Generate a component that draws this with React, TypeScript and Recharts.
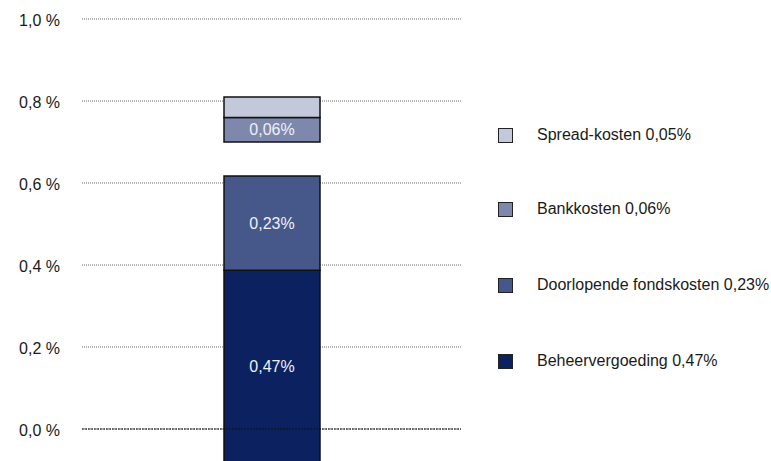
import React from 'react';
import { BarChart, Bar, XAxis, YAxis, CartesianGrid, ReferenceLine, LabelList } from 'recharts';

const categories = ['Kosten'];
const baseOffset = [-0.083];
const beheervergoeding = [0.47];
const doorlopende = [0.23];
const gapValues = [0.083];
const bankkosten = [0.06];
const spreadkosten = [0.05];

const yTicks = [0, 0.2, 0.4, 0.6, 0.8, 1.0];
const yTickLabels = ['0,0 %', '0,2 %', '0,4 %', '0,6 %', '0,8 %', '1,0 %'];

const barLabels = { beheer: '0,47%', doorl: '0,23%', bank: '0,06%' };

const legendNames = ['Spread-kosten 0,05%', 'Bankkosten 0,06%', 'Doorlopende fondskosten 0,23%', 'Beheervergoeding 0,47%'];
const legendColors = ['#c3c8da', '#7e88ad', '#46578a', '#0c2260'];
const legendCenters = [135, 209, 285, 361];

const data = categories.map((name, i) => ({
  name,
  offset: baseOffset[i],
  beheer: beheervergoeding[i],
  doorl: doorlopende[i],
  gap: gapValues[i],
  bank: bankkosten[i],
  spread: spreadkosten[i],
}));

const FONT = '"Liberation Sans", Arial, sans-serif';

const YTick = (props: any) => {
  const { y, payload } = props;
  const idx = yTicks.findIndex((t) => Math.abs(t - payload.value) < 1e-9);
  return (
    <text x={60} y={y + 1} textAnchor="end" dominantBaseline="central" fontSize={16} fontFamily={FONT} fill="#1a1a1a">
      {idx >= 0 ? yTickLabels[idx] : ''}
    </text>
  );
};

export default function App() {
  return (
    <div style={{ position: 'absolute', left: 0, top: 0, width: 771, height: 461, overflow: 'hidden', background: '#fff' }}>
      <BarChart width={771} height={480} data={data} margin={{ top: 19, right: 310, left: 0, bottom: 10 }}>
        <CartesianGrid vertical={false} stroke="#666" strokeDasharray="1 1" />
        <ReferenceLine y={0} stroke="#111" strokeDasharray="2 1" />
        <XAxis dataKey="name" hide />
        <YAxis
          width={82}
          domain={[-0.1, 1.0]}
          ticks={yTicks}
          axisLine={false}
          tickLine={false}
          tick={<YTick />}
          allowDataOverflow
        />
        <Bar dataKey="offset" stackId="a" fill="transparent" stroke="none" barSize={96} isAnimationActive={false} />
        <Bar dataKey="beheer" stackId="a" fill={legendColors[3]} stroke="#111" strokeWidth={1.5} barSize={96} isAnimationActive={false}>
          <LabelList position="center" formatter={() => barLabels.beheer} fill="#eef0f6" fontSize={16} fontFamily={FONT} />
        </Bar>
        <Bar dataKey="doorl" stackId="a" fill={legendColors[2]} stroke="#111" strokeWidth={1.5} barSize={96} isAnimationActive={false}>
          <LabelList position="center" formatter={() => barLabels.doorl} fill="#eef0f6" fontSize={16} fontFamily={FONT} />
        </Bar>
        <Bar dataKey="gap" stackId="a" fill="transparent" stroke="none" barSize={96} isAnimationActive={false} />
        <Bar dataKey="bank" stackId="a" fill={legendColors[1]} stroke="#111" strokeWidth={1.5} barSize={96} isAnimationActive={false}>
          <LabelList position="center" formatter={() => barLabels.bank} fill="#eef0f6" fontSize={16} fontFamily={FONT} />
        </Bar>
        <Bar dataKey="spread" stackId="a" fill={legendColors[0]} stroke="#111" strokeWidth={1.5} barSize={96} isAnimationActive={false} />
      </BarChart>
      {legendNames.map((name, i) => (
        <div
          key={name}
          style={{
            position: 'absolute',
            left: 498,
            top: legendCenters[i] - 10,
            height: 20,
            display: 'flex',
            alignItems: 'center',
            fontFamily: FONT,
            fontSize: 16,
            color: '#1a1a1a',
            whiteSpace: 'nowrap',
          }}
        >
          <span
            style={{
              display: 'inline-block',
              width: 13,
              height: 13,
              background: legendColors[i],
              border: '1.5px solid #222',
              marginRight: 24,
            }}
          />
          {name}
        </div>
      ))}
    </div>
  );
}
